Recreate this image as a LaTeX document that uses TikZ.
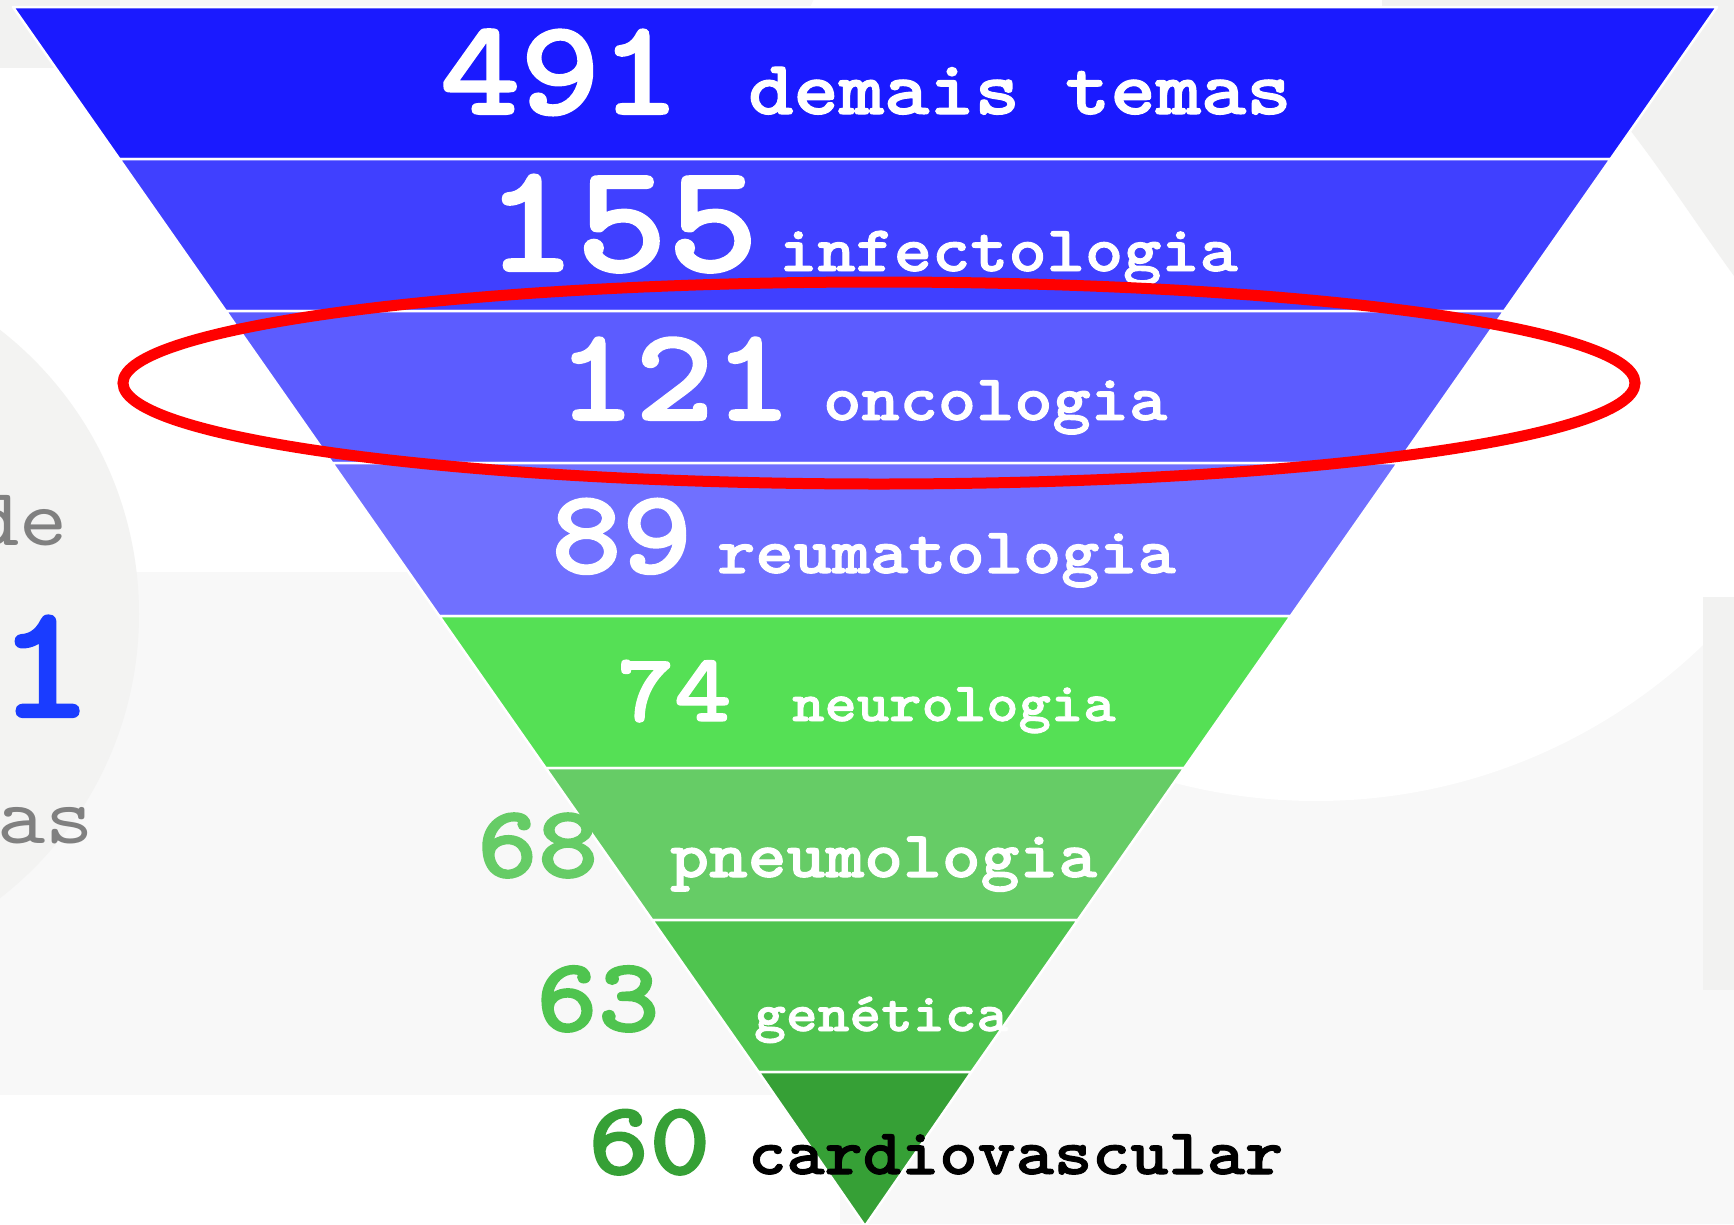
\documentclass[tikz,border=0pt]{standalone}
\usepackage{fontspec}
\newfontfamily\courb{lmmonolt10-bold}[Extension=.otf, FakeStretch=1.12, FakeBold=1.5]
\newfontfamily\cour{lmmono10-regular}[Extension=.otf, FakeStretch=1.12]
\definecolor{bA}{HTML}{1A1AFF}
\definecolor{bB}{HTML}{4040FF}
\definecolor{bC}{HTML}{5C5CFF}
\definecolor{bD}{HTML}{7070FF}
\definecolor{gA}{HTML}{55E055}
\definecolor{gB}{HTML}{66CC66}
\definecolor{gC}{HTML}{4FC44F}
\definecolor{gD}{HTML}{36A036}
\definecolor{bgA}{HTML}{F8F8F8}
\definecolor{bgB}{HTML}{F2F2F1}
\definecolor{bgC}{HTML}{F3F3F2}
\definecolor{ghost}{HTML}{808080}
\definecolor{blueone}{HTML}{1A3CFF}
\newcommand{\fsz}[1]{\fontsize{#1}{#1}\selectfont}
\tikzset{
  band/.style={draw=white, line width=2.5pt, line join=round},
  lbl/.style={anchor=base west, inner sep=0pt, text=white},
  ghosttxt/.style={anchor=base east, inner sep=0pt, text=ghost}
}
\begin{document}
\begin{tikzpicture}[x=1pt,y=-1pt]
\useasboundingbox (0,0) rectangle (1734,1224);
% background
\fill[bgA] (0,0) rectangle (1734,1224);
\fill[bgB] (0,0) rectangle (120,68);
\fill[white] (0,68) rectangle (636,572);
\fill[white] (0,1095) rectangle (840,1224);
\begin{scope}
  \clip (0,0) rectangle (1734,1224);
  \fill[bgC] (-221,614) circle[radius=360pt];
  \fill[white] (1316,243) circle[radius=558pt];
\end{scope}
\fill[bgB] (1382,0) -- (1734,0) -- (1734,276) .. controls (1690,215) and (1655,160) .. (1615,111) -- (1382,100) -- cycle;
\fill[bgB] (1703,597) rectangle (1734,990);
% funnel bands
\filldraw[band, fill=bA] (13,7) -- (1717,7) -- (1610.6,159) -- (119.4,159) -- cycle;
\filldraw[band, fill=bB] (119.4,159) -- (1610.6,159) -- (1504.2,311) -- (225.8,311) -- cycle;
\filldraw[band, fill=bC] (225.8,311) -- (1504.2,311) -- (1397.8,463) -- (332.2,463) -- cycle;
\filldraw[band, fill=bD] (332.2,463) -- (1397.8,463) -- (1290.7,616) -- (439.3,616) -- cycle;
\filldraw[band, fill=gA] (439.3,616) -- (1290.7,616) -- (1184.3,768) -- (545.7,768) -- cycle;
\filldraw[band, fill=gB] (545.7,768) -- (1184.3,768) -- (1077.8,920) -- (652.2,920) -- cycle;
\filldraw[band, fill=gC] (652.2,920) -- (1077.8,920) -- (971.4,1072) -- (758.6,1072) -- cycle;
\filldraw[band, fill=gD] (758.6,1072) -- (971.4,1072) -- (865,1226) -- cycle;
% left ghost texts
\node[ghosttxt, font=\cour\fsz{82}] (de) at (68,545) {de};
\node[anchor=base west, inner sep=0pt, text=blueone, font=\courb\fsz{163}] (one) at (-3,717) {1};
\node[ghosttxt, font=\cour\fsz{82}] (as) at (94,843) {as};
% labels
\node[lbl, font=\courb\fsz{136}] (n491) at (440,114) {491};
\node[lbl, font=\courb\fsz{77}] (t491) at (748,114) {demais temas};
\node[lbl, font=\courb\fsz{155}] (n155) at (485,271) {155};
\node[lbl, font=\courb\fsz{65}] (t155) at (779,271) {infectologia};
\node[lbl, font=\courb\fsz{133}] (n121) at (557,420) {121};
\node[lbl, font=\courb\fsz{65}] (t121) at (823,420) {oncologia};
\node[lbl, font=\courb\fsz{120}] (n89) at (551,573) {89};
\node[lbl, font=\courb\fsz{65}] (t89) at (717,573) {reumatologia};
\node[lbl, font=\courb\fsz{97}] (n74) at (617,721) {74};
\node[lbl, font=\courb\fsz{55}] (t74) at (792,721) {neurologia};
\node[lbl, text=gB, font=\courb\fsz{103}] (n68) at (477,877) {68};
\node[lbl, font=\courb\fsz{66}] (t68) at (670,877) {pneumologia};
\node[lbl, text=gC, font=\courb\fsz{105}] (n63) at (536,1031) {63};
\node[lbl, font=\courb\fsz{54}] (t63) at (754,1031) {genética};
\node[lbl, text=gD, font=\courb\fsz{104}] (n60) at (588,1174) {60};
\node[lbl, text=black, font=\courb\fsz{65}] (t60) at (748,1174) {cardiovascular};
% highlight ellipse
\draw[red, line width=11pt] (879,383) ellipse[x radius=756pt, y radius=101pt];
\end{tikzpicture}
\end{document}
